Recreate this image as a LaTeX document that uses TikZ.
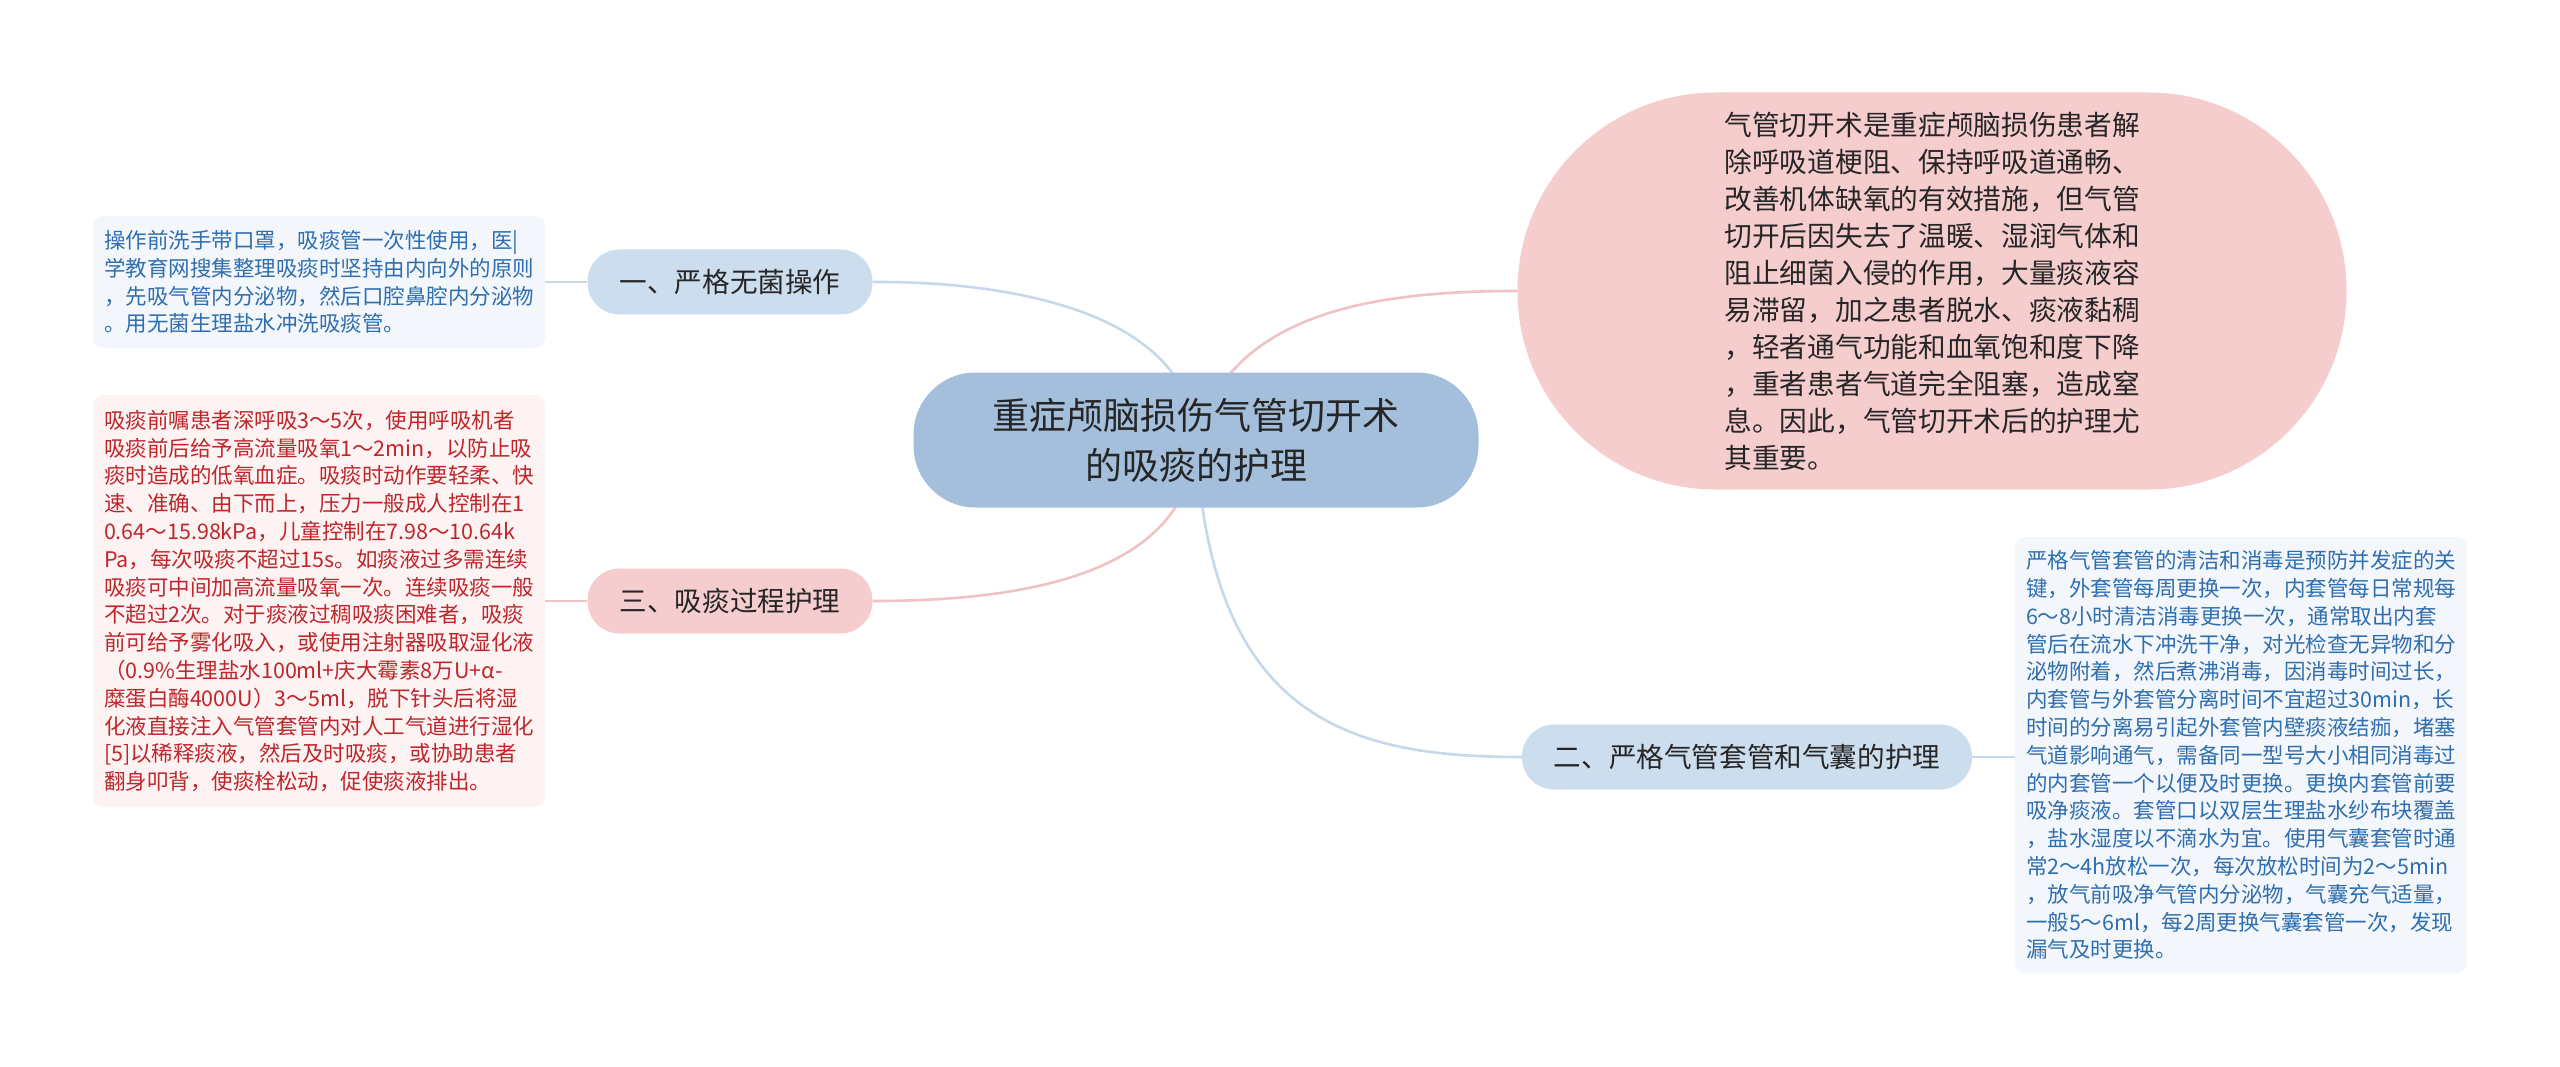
\documentclass[tikz,border=0pt]{standalone}
\usepackage{fontspec}
\setmainfont{Noto Sans CJK SC}
\usetikzlibrary{backgrounds}
\definecolor{centralfill}{HTML}{A3BFDB}
\definecolor{bluefill}{HTML}{CCDDEE}
\definecolor{pinkfill}{HTML}{F5CDCE}
\definecolor{bigpink}{HTML}{F5CDCD}
\definecolor{leafbluefill}{HTML}{F3F7FC}
\definecolor{leafbluetext}{HTML}{2F6EAF}
\definecolor{leafredfill}{HTML}{FDF3F3}
\definecolor{leafredtext}{HTML}{BE262C}
\definecolor{lineblue}{HTML}{C6D8EA}
\definecolor{linered}{HTML}{EFC2C4}
\definecolor{darktext}{HTML}{262626}
\tikzset{
  centralbox/.style={fill=centralfill, rounded corners=62pt, minimum width=565pt, minimum height=135pt,
    inner sep=0pt, align=center, text=darktext, font=\fontsize{37}{50}\selectfont},
  branchblue/.style={fill=bluefill, rounded corners=32pt, minimum height=65pt, inner sep=0pt,
    text=darktext, font=\fontsize{27.6}{33}\selectfont},
  branchpink/.style={branchblue, fill=pinkfill},
  bigbox/.style={fill=bigpink, rounded corners=198pt, minimum width=829pt, minimum height=397pt,
    inner sep=0pt, text width=415pt, align=left, text=darktext, font=\fontsize{27.7}{37}\selectfont},
  leafblue/.style={fill=leafbluefill, rounded corners=10pt, minimum width=452pt, inner xsep=11pt,
    text width=430pt, align=left, text=leafbluetext, font=\fontsize{21.5}{27.8}\selectfont},
  leafred/.style={leafblue, fill=leafredfill, text=leafredtext},
  linkblue/.style={draw=lineblue, line width=2.6pt},
  linkred/.style={draw=linered, line width=2.6pt}
}
\begin{document}
\begin{tikzpicture}[x=1pt,y=-1pt]
\useasboundingbox (0,0) rectangle (2560,1067);

\node[centralbox] (c) at (1196,440) {重症颅脑损伤气管切开术\\的吸痰的护理};

\node[branchblue, minimum width=285pt] (b1) at (730,282) {一、严格无菌操作};
\node[branchpink, minimum width=285pt] (b3) at (730,601) {三、吸痰过程护理};
\node[branchblue, minimum width=450pt] (b2) at (1747,757) {二、严格气管套管和气囊的护理};

\node[bigbox] (big) at (1932,291) {气管切开术是重症颅脑损伤患者解\\
除呼吸道梗阻、保持呼吸道通畅、\\
改善机体缺氧的有效措施，但气管\\
切开后因失去了温暖、湿润气体和\\
阻止细菌入侵的作用，大量痰液容\\
易滞留，加之患者脱水、痰液黏稠\\
，轻者通气功能和血氧饱和度下降\\
，重者患者气道完全阻塞，造成窒\\
息。因此，气管切开术后的护理尤\\
其重要。};

\node[leafblue, minimum height=132pt] (l1) at (319,282) {操作前洗手带口罩，吸痰管一次性使用，医|\\
学教育网搜集整理吸痰时坚持由内向外的原则\\
，先吸气管内分泌物，然后口腔鼻腔内分泌物\\
。用无菌生理盐水冲洗吸痰管。};

\node[leafred, minimum height=412pt] (l3) at (319,601) {吸痰前嘱患者深呼吸3～5次，使用呼吸机者\\
吸痰前后给予高流量吸氧1～2min，以防止吸\\
痰时造成的低氧血症。吸痰时动作要轻柔、快\\
速、准确、由下而上，压力一般成人控制在1\\
0.64～15.98kPa，儿童控制在7.98～10.64k\\
Pa，每次吸痰不超过15s。如痰液过多需连续\\
吸痰可中间加高流量吸氧一次。连续吸痰一般\\
不超过2次。对于痰液过稠吸痰困难者，吸痰\\
前可给予雾化吸入，或使用注射器吸取湿化液\\
（0.9\%生理盐水100ml+庆大霉素8万U+α-\\
糜蛋白酶4000U）3～5ml，脱下针头后将湿\\
化液直接注入气管套管内对人工气道进行湿化\\
{}[5]以稀释痰液，然后及时吸痰，或协助患者\\
翻身叩背，使痰栓松动，促使痰液排出。};

\node[leafblue, minimum height=436pt] (l2) at (2241,755) {严格气管套管的清洁和消毒是预防并发症的关\\
键，外套管每周更换一次，内套管每日常规每\\
6～8小时清洁消毒更换一次，通常取出内套\\
管后在流水下冲洗干净，对光检查无异物和分\\
泌物附着，然后煮沸消毒，因消毒时间过长，\\
内套管与外套管分离时间不宜超过30min，长\\
时间的分离易引起外套管内壁痰液结痂，堵塞\\
气道影响通气，需备同一型号大小相同消毒过\\
的内套管一个以便及时更换。更换内套管前要\\
吸净痰液。套管口以双层生理盐水纱布块覆盖\\
，盐水湿度以不滴水为宜。使用气囊套管时通\\
常2～4h放松一次，每次放松时间为2～5min\\
，放气前吸净气管内分泌物，气囊充气适量，\\
一般5～6ml，每2周更换气囊套管一次，发现\\
漏气及时更换。};

\begin{pgfonlayer}{background}
\draw[linkblue] (c.center) .. controls (1190,310) and (1005,281) .. (b1.east);
\draw[linkred] (c.center) .. controls (1230,310) and (1380,291) .. (big.west);
\draw[linkred] (c.center) .. controls (1190,580) and (1010,601) .. (b3.east);
\draw[linkblue] (c.center) .. controls (1210,720) and (1350,757) .. (b2.west);
\draw[linkblue] (b1.west) -- (b1.west -| l1.east);
\draw[linkred] (b3.west) -- (b3.west -| l3.east);
\draw[linkblue] (b2.east) -- (b2.east -| l2.west);
\end{pgfonlayer}
\end{tikzpicture}
\end{document}
